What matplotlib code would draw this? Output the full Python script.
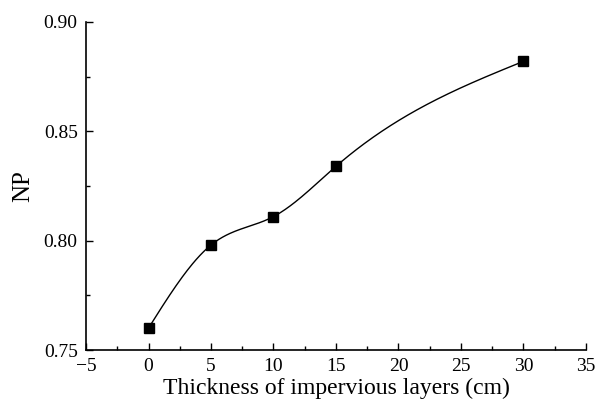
import numpy as np
import matplotlib
matplotlib.use("Agg")
import matplotlib.pyplot as plt
from matplotlib.ticker import MultipleLocator

# Data
thickness = [0, 5, 10, 15, 30]
np_values = [0.760, 0.798, 0.811, 0.834, 0.882]
x_ticks = [-5, 0, 5, 10, 15, 20, 25, 30, 35]
y_ticks = [0.75, 0.80, 0.85, 0.90]


def natural_spline(x, y, n=300):
    # natural cubic spline through the points (smooth line like Origin's spline connector)
    x = np.asarray(x, float)
    y = np.asarray(y, float)
    k = len(x)
    h = np.diff(x)
    A = np.zeros((k, k))
    b = np.zeros(k)
    A[0, 0] = A[-1, -1] = 1
    for i in range(1, k - 1):
        A[i, i - 1] = h[i - 1]
        A[i, i] = 2 * (h[i - 1] + h[i])
        A[i, i + 1] = h[i]
        b[i] = 3 * ((y[i + 1] - y[i]) / h[i] - (y[i] - y[i - 1]) / h[i - 1])
    c = np.linalg.solve(A, b)
    xs = np.linspace(x[0], x[-1], n)
    idx = np.clip(np.searchsorted(x, xs) - 1, 0, k - 2)
    dx = xs - x[idx]
    bb = (y[idx + 1] - y[idx]) / h[idx] - h[idx] * (2 * c[idx] + c[idx + 1]) / 3
    dd = (c[idx + 1] - c[idx]) / (3 * h[idx])
    ys = y[idx] + bb * dx + c[idx] * dx ** 2 + dd * dx ** 3
    return xs, ys


plt.rcParams['font.family'] = ['Liberation Serif', 'DejaVu Serif']

fig = plt.figure(figsize=(5.96, 4.05), dpi=100)
ax = fig.add_axes([0.1443, 0.1358, 0.8389, 0.81])

xs, ys = natural_spline(thickness, np_values)
ax.plot(xs, ys, color='black', lw=1.0)
ax.plot(thickness, np_values, 's', color='black', markersize=7)

ax.set_xlim(-5, 35)
ax.set_ylim(0.75, 0.90)
ax.set_xticks(x_ticks)
ax.set_xticklabels(['\u22125' if t < 0 else str(t) for t in x_ticks])
ax.set_yticks(y_ticks)
ax.set_yticklabels([f'{t:.2f}' for t in y_ticks])
ax.xaxis.set_minor_locator(MultipleLocator(2.5))
ax.yaxis.set_minor_locator(MultipleLocator(0.025))

for s in ['top', 'right']:
    ax.spines[s].set_visible(False)
for s in ['left', 'bottom']:
    ax.spines[s].set_linewidth(1.2)

ax.tick_params(which='both', direction='in', labelsize=14, width=1.0)
ax.tick_params(which='major', length=5, pad=6)
ax.tick_params(which='minor', length=3)

ax.set_xlabel('Thickness of impervious layers (cm)', fontsize=17, labelpad=2)
ax.set_ylabel('NP', fontsize=18, labelpad=7)

fig.savefig('out.png', dpi=100)
